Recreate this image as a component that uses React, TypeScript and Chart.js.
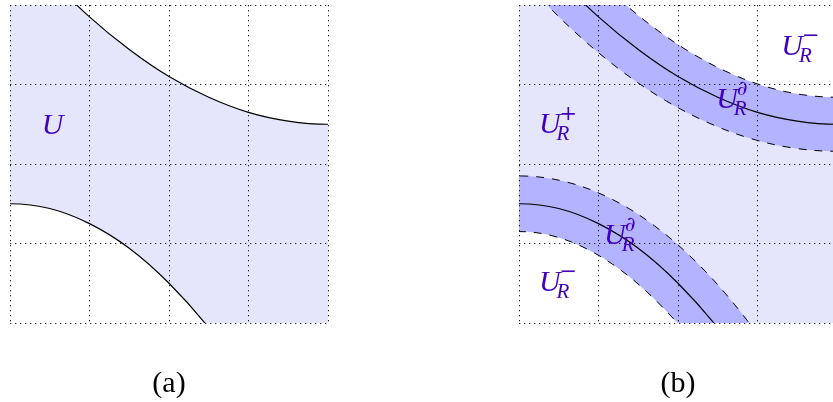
import React, { useEffect, useRef } from "react";
import { Chart, registerables } from "chart.js";

Chart.register(...registerables);

// Grid (both panels): 4 x 4 cells
const axisMin = 0;
const axisMax = 4;

// Solid boundary curves (shared by both panels)
const topCurveX = [0, 0.5, 1, 1.5, 2, 2.5, 3, 3.5, 4, 4.5];
const topCurveY = [4.9, 4.34, 3.85, 3.44, 3.1, 2.84, 2.65, 2.54, 2.5, 2.54];
const bottomCurveX = [-0.5, 0, 0.5, 1, 1.5, 2, 2.5, 3];
const bottomCurveY = [1.44, 1.5, 1.44, 1.25, 0.94, 0.5, -0.06, -0.75];

// Band edges (dashed) around the top curve
const topBandUpperX = [-0.227, 0.261, 0.746, 1.228, 1.704, 2.175, 2.64, 3.098, 3.55, 4.0, 4.45];
const topBandUpperY = [5.74, 5.118, 4.572, 4.103, 3.71, 3.392, 3.148, 2.976, 2.874, 2.84, 2.874];
const topBandLowerX = [-0.773, -0.261, 0.254, 0.773, 1.296, 1.825, 2.361, 2.902, 3.45, 4.0, 4.55];
const topBandLowerY = [5.335, 4.682, 4.103, 3.597, 3.166, 2.809, 2.528, 2.324, 2.201, 2.16, 2.201];

// Band edges (dashed) around the bottom curve
const bottomBandUpperX = [-0.585, 0, 0.585, 1.157, 1.71, 2.248, 2.773, 3.291, 3.804];
const bottomBandUpperY = [1.777, 1.85, 1.777, 1.563, 1.218, 0.748, 0.156, -0.556, -1.389];
const bottomBandLowerX = [-0.415, 0, 0.415, 0.843, 1.29, 1.753, 2.227, 2.709, 3.196];
const bottomBandLowerY = [1.098, 1.15, 1.098, 0.937, 0.658, 0.253, -0.281, -0.944, -1.736];

// Region labels: U with optional subscript / superscript, placed at (x, y) = glyph baseline-left
const labelsA = [{ sub: "", sup: "", x: 0.4, y: 2.38 }];
const labelSubB = ["R", "R", "R", "R", "R"];
const labelSupB = ["+", "\u2202", "\u2202", "\u2212", "\u2212"];
const labelXB = [0.25, 2.48, 1.07, 3.3, 0.25];
const labelYB = [2.39, 2.7, 0.99, 3.37, 0.4];

const captions = ["(a)", "(b)"];

const LIGHT = "rgb(229,229,252)";
const MEDIUM = "rgb(179,179,255)";
const TEXT = "rgb(64,0,191)";

const pts = (xs: number[], ys: number[]) => xs.map((x, i) => ({ x, y: ys[i] }));

type Lbl = { sub: string; sup: string; x: number; y: number };

const makePlugin = (labels: Lbl[], caption: string) => ({
  id: "regionLabels",
  afterDraw(chart: any) {
    const { ctx, chartArea } = chart;
    const xs = chart.scales.x;
    const ys = chart.scales.y;
    ctx.save();
    ctx.textBaseline = "alphabetic";
    ctx.textAlign = "left";
    ctx.fillStyle = TEXT;
    labels.forEach((l) => {
      const px = xs.getPixelForValue(l.x);
      const py = ys.getPixelForValue(l.y);
      ctx.font = 'italic 30px "Liberation Serif"';
      ctx.fillText("U", px, py);
      const w = ctx.measureText("U").width;
      if (l.sub) {
        ctx.font = 'italic 21px "Liberation Serif"';
        ctx.fillText(l.sub, px + w - 4, py + 7);
      }
      if (l.sup) {
        ctx.font = '21px "DejaVu Serif"';
        ctx.fillText(l.sup, px + w - 1, py - 13);
      }
    });
    ctx.fillStyle = "#000";
    ctx.textAlign = "center";
    ctx.font = '30px "Liberation Serif"';
    ctx.fillText(caption, (chartArea.left + chartArea.right) / 2, 392);
    ctx.restore();
  },
});

const scaleOpts = {
  type: "linear" as const,
  min: axisMin,
  max: axisMax,
  ticks: { display: false, stepSize: 1 },
  grid: { color: "rgba(20,20,20,0.95)", lineWidth: 1, drawTicks: false, z: 1 },
  border: { display: false, dash: [1.3, 3.7] },
};

const lineDs = (data: any[], extra: any) => ({
  data,
  pointRadius: 0,
  pointHoverRadius: 0,
  tension: 0.35,
  borderColor: "#000",
  borderWidth: 1.2,
  fill: false,
  ...extra,
});

function Panel({ which }: { which: "a" | "b" }) {
  const ref = useRef<HTMLCanvasElement>(null);
  useEffect(() => {
    if (!ref.current) return;
    let datasets: any[];
    let labels: Lbl[];
    if (which === "a") {
      datasets = [
        lineDs(pts(topCurveX, topCurveY), { fill: "start", backgroundColor: LIGHT, order: 2 }),
        lineDs(pts(bottomCurveX, bottomCurveY), { fill: "start", backgroundColor: "#fff", order: 1 }),
      ];
      labels = labelsA;
    } else {
      const dashed = { borderDash: [8, 8], borderWidth: 1 };
      datasets = [
        lineDs(pts(topBandUpperX, topBandUpperY), { ...dashed, fill: "start", backgroundColor: MEDIUM, order: 6 }),
        lineDs(pts(topBandLowerX, topBandLowerY), { ...dashed, fill: "start", backgroundColor: LIGHT, order: 5 }),
        lineDs(pts(bottomBandUpperX, bottomBandUpperY), { ...dashed, fill: "start", backgroundColor: MEDIUM, order: 4 }),
        lineDs(pts(bottomBandLowerX, bottomBandLowerY), { ...dashed, fill: "start", backgroundColor: "#fff", order: 3 }),
        lineDs(pts(topCurveX, topCurveY), { order: 1 }),
        lineDs(pts(bottomCurveX, bottomCurveY), { order: 0 }),
      ];
      labels = labelSubB.map((s, i) => ({ sub: s, sup: labelSupB[i], x: labelXB[i], y: labelYB[i] }));
    }
    const chart = new Chart(ref.current, {
      type: "line",
      data: { datasets },
      options: {
        responsive: false,
        animation: false,
        devicePixelRatio: 1,
        layout: { padding: { left: 10, right: 12, top: 5, bottom: 79 } },
        plugins: { legend: { display: false }, tooltip: { enabled: false } },
        events: [],
        scales: { x: scaleOpts, y: scaleOpts },
      },
      plugins: [makePlugin(labels, which === "a" ? captions[0] : captions[1])],
    });
    return () => chart.destroy();
  }, [which]);
  return (
    <canvas
      ref={ref}
      width={340}
      height={402}
      style={{ position: "absolute", left: which === "a" ? 0 : 509, top: 0, width: 340, height: 402 }}
    />
  );
}

export default function App() {
  return (
    <div
      style={{
        position: "fixed",
        left: 0,
        top: 0,
        width: 833,
        height: 402,
        overflow: "hidden",
        background: "#fff",
      }}
    >
      <Panel which="a" />
      <Panel which="b" />
    </div>
  );
}
